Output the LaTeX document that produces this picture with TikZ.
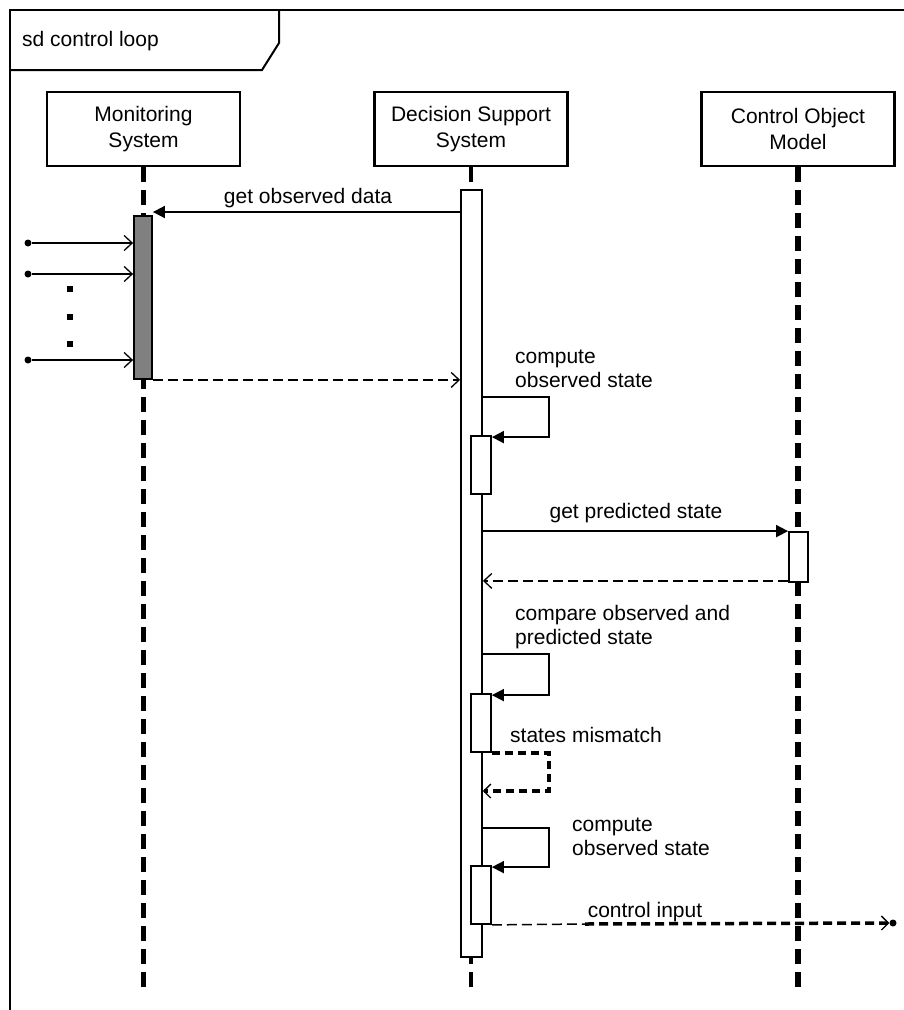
\documentclass[tikz,border=0pt]{standalone}
\usepackage{fontspec}
\setmainfont{Liberation Sans}
\usetikzlibrary{arrows.meta,calc}

\begin{document}
\begin{tikzpicture}[x=1pt,y=-1pt,
  txt/.style={font=\fontsize{21}{24}\selectfont, inner sep=0pt},
  head/.style={draw, line width=2.2pt, minimum width=193pt, minimum height=74pt,
    align=center, inner sep=0pt, font=\fontsize{21}{26}\selectfont},
  bar/.style={draw, line width=1.8pt, fill=white, inner sep=0pt},
  lifeline/.style={line width=4.5pt, dash pattern=on 15pt off 8pt},
  call/.style={line width=1.8pt, -{Triangle[length=12pt,width=12pt]}},
  reply/.style={line width=1.5pt, dash pattern=on 10pt off 5pt,
    -{Straight Barb[length=8pt,width=15pt,line width=1.3pt]}},
  found/.style={line width=1.8pt, -{Straight Barb[length=8pt,width=15pt,line width=1.3pt]}},
  selfcall/.style={line width=1.8pt, -{Triangle[length=12pt,width=12pt]}},
  thickreply/.style={line width=3.5pt, dash pattern=on 8pt off 5pt,
    -{Straight Barb[length=7pt,width=14pt,line width=1.3pt]}},
  blob/.style={circle, fill, inner sep=0pt, minimum size=7pt},
  dotmark/.style={rectangle, fill, inner sep=0pt, minimum size=5.5pt}
]
\useasboundingbox (0,0) rectangle (903,1010);

% diagram frame and its name tab
\draw[line width=2pt] (10,1012) -- (10,10) -- (905,10);
\draw[line width=2pt] (10,70) -- (262,70) -- (279,43) -- (279,10);
\node[txt, anchor=base west] (title) at (22,46) {sd control loop};

% lifeline heads
\node[head] (ms)  at (143.5,129) {Monitoring\\System};
\node[head] (dss) at (471,129)   {Decision Support\\System};
\node[head] (com) at (798,129)   {Control Object\\Model};

% lifeline ends
\coordinate (msend)  at (143.5,987);
\coordinate (dssend) at (471,987);
\coordinate (comend) at (798,987);

\draw[lifeline] (ms.south) -- (msend);
\draw[lifeline, line width=4pt] (dss.south) -- (dssend);
\draw[lifeline, line width=6pt] (com.south) -- (comend);

% activation bars
\node[bar, fill={rgb,255:red,128;green,128;blue,128}, minimum width=18pt, minimum height=163pt] (msbar) at (143,297.5) {};
\node[bar, minimum width=21pt, minimum height=767pt] (dssbar) at (471.5,573.5) {};
\node[bar, minimum width=20pt, minimum height=58pt] (n1) at (481,465) {};
\node[bar, minimum width=19pt, minimum height=50pt] (combar) at (798.5,557) {};
\node[bar, minimum width=20pt, minimum height=58pt] (n2) at (481,723) {};
\node[bar, minimum width=20pt, minimum height=58pt] (n3) at (481,895) {};

% get observed data
\coordinate (m1) at (0,212);
\draw[call] (dssbar.west |- m1) -- (msbar.east |- m1);
\node[txt, anchor=base] (l1) at (308,203) {get observed data};

% incoming measurements
\node[blob] (in1) at (28,243) {};
\node[blob] (in2) at (28,274) {};
\node[blob] (in3) at (28,360) {};
\draw[found] (in1) -- (msbar.west |- in1);
\draw[found] (in2) -- (msbar.west |- in2);
\draw[found] (in3) -- (msbar.west |- in3);
\node[dotmark] (d1) at (70,289) {};
\node[dotmark] (d2) at (70,317) {};
\node[dotmark] (d3) at (70,344) {};

% observed data returned
\draw[reply] (msbar.south east) -- (dssbar.west |- msbar.south);

% compute observed state (anchor sits on the last line's baseline)
\coordinate (s1) at (549,397);
\draw[selfcall] (dssbar.east |- s1) -- (s1) -- ($(s1 |- n1.north)+(0,2)$) -- ($(n1.north east)+(0,2)$);
\node[txt, anchor=base west, align=left] (l2) at (515,387) {compute\\observed state};

% get predicted state
\draw[call] (dssbar.east |- combar.north) -- (combar.north west);
\node[txt, anchor=base] (l3) at (636,518) {get predicted state};
\draw[reply] ($(combar.south west)+(0,-2)$) -- ($(dssbar.east |- combar.south)+(0,-2)$);

% compare observed and predicted state
\coordinate (s2) at (549,654);
\draw[selfcall] (dssbar.east |- s2) -- (s2) -- ($(s2 |- n2.north)+(0,2)$) -- ($(n2.north east)+(0,2)$);
\node[txt, anchor=base west, align=left] (l4) at (515,644) {compare observed and\\predicted state};

% states mismatch
\coordinate (s3) at (549,791);
\draw[thickreply] (n2.south east) -- (s3 |- n2.south) -- (s3) -- (dssbar.east |- s3);
\node[txt, anchor=base west] (l5) at (510,742) {states mismatch};

% compute observed state again
\coordinate (s4) at (549,828);
\draw[selfcall] (dssbar.east |- s4) -- (s4) -- ($(s4 |- n3.north)+(0,2)$) -- ($(n3.north east)+(0,2)$);
\node[txt, anchor=base west, align=left] (l6) at (572,855) {compute\\observed state};

% control input
\node[blob] (lost) at (893,923) {};
\coordinate (ci) at (585,924);
\draw[line width=1.5pt, dash pattern=on 10pt off 5pt] (n3.south east) -- (ci);
\draw[line width=3.5pt, dash pattern=on 9pt off 5pt,
  -{Straight Barb[length=7pt,width=14pt,line width=1.3pt]}] (ci) -- (lost.west);
\node[txt, anchor=base] (l7) at (645,917) {control input};
\end{tikzpicture}
\end{document}
